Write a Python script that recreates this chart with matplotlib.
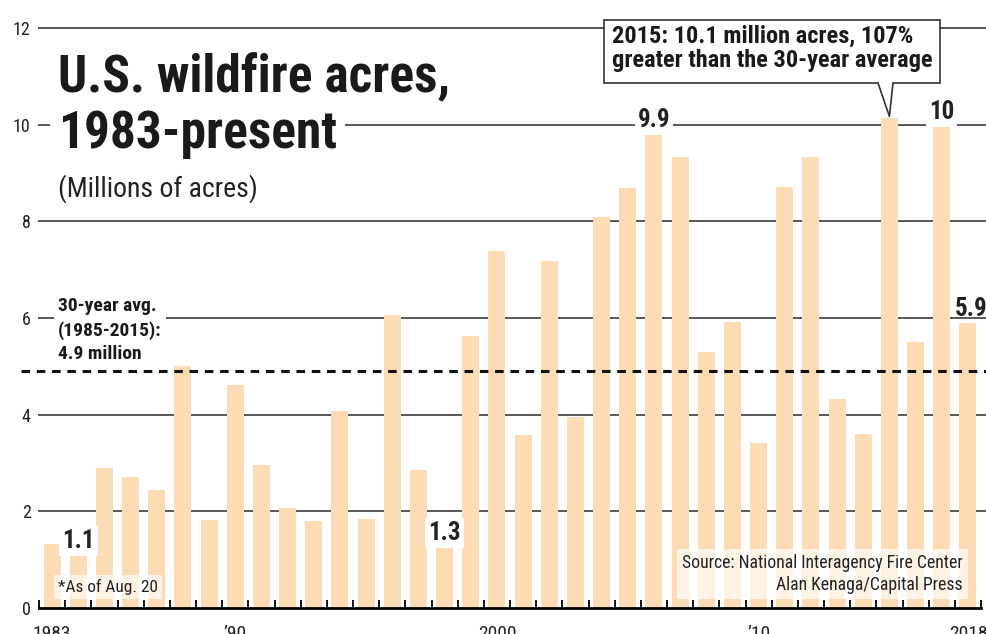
import matplotlib
matplotlib.use('Agg')
import matplotlib.pyplot as plt
from matplotlib import font_manager as fm
from matplotlib.patches import Rectangle, Polygon
from matplotlib.transforms import IdentityTransform

names = {f.name for f in fm.fontManager.ttflist}
CANDIDATES = ['Liberation Sans Narrow', 'Nimbus Sans Narrow', 'Arial Narrow',
              'Roboto Condensed', 'Archivo Narrow', 'PT Sans Narrow',
              'IBM Plex Sans Condensed', 'Liberation Sans']
NARROW = next(c for c in CANDIDATES if c in names or c == 'Liberation Sans')
plt.rcParams['font.family'] = [NARROW, 'DejaVu Sans']

# ---- data ----
years = list(range(1983, 2019))
acres = [1.32, 1.15, 2.90, 2.72, 2.45, 5.01, 1.83, 4.62, 2.95, 2.07,
         1.80, 4.07, 1.84, 6.07, 2.86, 1.33, 5.63, 7.39, 3.57, 7.18,
         3.96, 8.10, 8.69, 9.87, 9.33, 5.29, 5.92, 3.42, 8.71, 9.33,
         4.32, 3.60, 10.13, 5.51, 10.03, 5.90]
label_years = [1984, 1998, 2006, 2017, 2018]
label_texts = ['1.1', '1.3', '9.9', '10', '5.9*']
xtick_years = [1983, 1990, 2000, 2010, 2018]
xtick_labels = ['1983', '\u201990', '2000', '\u201910', '2018']
yticks = [0, 2, 4, 6, 8, 10, 12]
avg = 4.9
highlight_year = 2015

W, H = 986, 634
fig = plt.figure(figsize=(W / 100, H / 100), dpi=100)
ax = fig.add_axes([39 / W, 26 / H, 942 / W, 580 / H])
ax.set_xlim(1982.5, 2018.5)
ax.set_ylim(0, 12)

BAR = '#FDDBB4'
GRID = '#4a4a4a'

x_right = 1982.5 + (W - 39) / (942 / 36)
x_left_grid = 1982.5 - 1.0 / (942 / 36)
for y in yticks[1:]:
    ax.plot([x_left_grid, x_right], [y, y], color=GRID, lw=1.3, zorder=1, clip_on=False,
            solid_capstyle='butt')

ax.bar(years, acres, width=0.65, color=BAR, zorder=2)

# 30-year average dashed line
x_left_avg = 1982.5 - 18 / (942 / 36)
ax.plot([x_left_avg, x_right], [avg, avg], color='#111111', lw=2.2, zorder=4,
        dashes=(2.8, 2.2), clip_on=False)

# spines & ticks
for s in ['left', 'top', 'right']:
    ax.spines[s].set_visible(False)
ax.spines['bottom'].set_linewidth(2)
ax.spines['bottom'].set_zorder(5)
ax.set_yticks(yticks)
ax.set_yticklabels([str(v) for v in yticks])
ax.tick_params(axis='y', length=0, pad=6, labelsize=13, labelcolor='#222222')
ax.set_xticks(xtick_years)
ax.set_xticklabels(xtick_labels)
ax.set_xticks([y - 0.5 for y in years] + [years[-1] + 0.5], minor=True)
ax.tick_params(axis='x', which='major', length=0, pad=12, labelsize=14, labelcolor='#222222')
ax.tick_params(axis='x', which='minor', direction='in', length=6, width=1.3, color='black')

# value labels
for yr, txt in zip(label_years, label_texts):
    v = acres[years.index(yr)]
    if txt.endswith('*'):
        ax.annotate(txt, (yr - 0.5, v), xytext=(0, 5), textcoords='offset points',
                    ha='left', va='baseline', fontsize=18, fontweight='bold',
                    color='#222222', zorder=6, annotation_clip=False)
    else:
        ax.annotate(txt, (yr, v), xytext=(0, 3), textcoords='offset points',
                    ha='center', va='baseline', fontsize=18, fontweight='bold',
                    color='#222222', zorder=6,
                    bbox=dict(boxstyle='square,pad=0.12', fc='white', ec='none'))

# Title
def fy(px):
    return (H - px) / H

fig.text(58 / W, fy(92), 'U.S. wildfire acres,', fontsize=37, fontweight='bold',
         color='#1a1a1a', va='baseline', ha='left',
         bbox=dict(boxstyle='square,pad=0.1', fc='white', ec='none'), zorder=10)
fig.text(58 / W, fy(148), '1983-present', fontsize=37, fontweight='bold',
         color='#1a1a1a', va='baseline', ha='left',
         bbox=dict(boxstyle='square,pad=0.15', fc='white', ec='none'), zorder=10)
fig.text(58 / W, fy(197), '(Millions of acres)', fontsize=20, color='#222222',
         va='baseline', ha='left', zorder=10)

# Average label
fig.text(58 / W, fy(297), '30-year avg.\n(1985-2015):\n4.9 million', fontsize=14,
         fontweight='bold', color='#1a1a1a', va='top', ha='left', linespacing=1.4,
         bbox=dict(boxstyle='square,pad=0.2', fc='white', ec='none'), zorder=10)

# Callout for 2015
bx0, bx1, by0, by1 = 604, 940, H - 83, H - 20
tip = ax.transData.transform((highlight_year, acres[years.index(highlight_year)]))
tipx, tipy = tip[0], tip[1] + 2
fig.patches.append(Rectangle((bx0, by0), bx1 - bx0, by1 - by0, transform=IdentityTransform(),
                             fc='white', ec='#333333', lw=1.2, zorder=20))
fig.patches.append(Polygon([(878, by0 + 1), (893, by0 + 1), (tipx, tipy)], closed=True,
                           transform=IdentityTransform(), fc='white', ec='none', zorder=21))
fig.lines.append(plt.Line2D([878, tipx, 893], [by0, tipy, by0], transform=IdentityTransform(),
                            color='#333333', lw=1.2, zorder=22))
fig.text(612 / W, fy(25), '2015: 10.1 million acres, 107%\ngreater than the 30-year average',
         fontsize=17.6, fontweight='bold', color='#1a1a1a', va='top', ha='left',
         linespacing=1.08, zorder=25)

# footnote
fig.text(58 / W, fy(592), '*As of Aug. 20', fontsize=12.4, color='#222222', va='baseline',
         ha='left', zorder=10,
         bbox=dict(boxstyle='square,pad=0.25', fc='white', ec='none', alpha=0.65))

# source
fig.text(963 / W, fy(590), 'Source: National Interagency Fire Center\nAlan Kenaga/Capital Press',
         fontsize=12.7, color='#222222', va='baseline', ha='right', linespacing=1.3,
         zorder=10, bbox=dict(boxstyle='square,pad=0.3', fc='white', ec='none', alpha=0.65))

fig.savefig('out.png', dpi=100)
